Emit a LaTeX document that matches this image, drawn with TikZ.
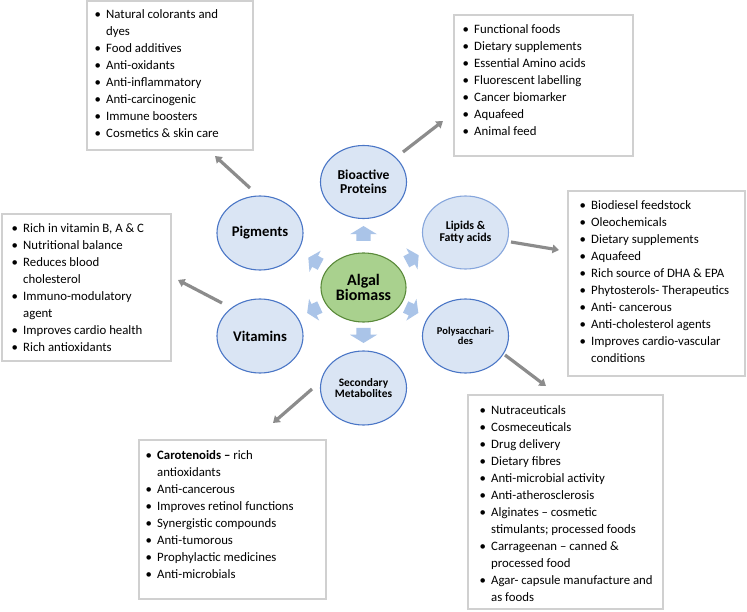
\documentclass[tikz,border=0pt]{standalone}
\usepackage{fontspec}
\setmainfont{Carlito}
\usetikzlibrary{shapes.geometric,arrows.meta}
\definecolor{cfill}{HTML}{DAE5F4}
\definecolor{cedge}{HTML}{4A76C6}
\definecolor{cedgeL}{HTML}{86A6DC}
\definecolor{gfill}{HTML}{A9D18E}
\definecolor{gedge}{HTML}{5A8A3A}
\definecolor{barrowc}{HTML}{AAC4E8}
\definecolor{gline}{HTML}{8C8C8C}
\definecolor{bedge}{HTML}{D0D0D0}
\newlength\bind
\setlength\bind{8.5pt}
\newcommand\bl[1]{\makebox[\bind][l]{\makebox[0pt]{\textbullet}}#1}
\newcommand\cl[1]{\hspace*{\bind}#1}
\newcommand\barr[5]{\begin{scope}[shift={(#1,#2)},rotate=#3]
\fill[barrowc] ({-#4/2},{-0.26*#5}) -- ({0.5*#4-0.55*#4},{-0.26*#5}) -- ({0.5*#4-0.55*#4},{-#5/2}) -- ({#4/2},0) -- ({0.5*#4-0.55*#4},{#5/2}) -- ({0.5*#4-0.55*#4},{0.26*#5}) -- ({-#4/2},{0.26*#5}) -- cycle;
\end{scope}}
\begin{document}
\begin{tikzpicture}[x=1pt,y=-1pt,
  circ/.style={ellipse, draw=cedge, line width=1.1pt, fill=cfill, inner sep=0pt,
    minimum width=86pt, minimum height=73pt, align=center},
  boxst/.style={draw=bedge, line width=1.2pt, fill=white},
  txt/.style={inner sep=0pt, anchor=base west, font=\fontsize{12.8}{17}\selectfont},
  conn/.style={draw=gline, line width=3.2pt, -{Triangle[length=6.5pt,width=8.5pt]}}]
\useasboundingbox (0,0) rectangle (747,612);
\fill[white] (0,0) rectangle (747,612);

% boxes
\draw[boxst] (87,1) rectangle (253,150);
\draw[boxst] (454,15) rectangle (633,156);
\draw[boxst] (568,191) rectangle (745,376);
\draw[boxst] (2,214) rectangle (171,361);
\draw[boxst] (468,395) rectangle (663,609);
\draw[boxst] (139,440) rectangle (326,599);

% box texts
\node[txt] (pigT) at (97.5,19) {\begin{tabular}[t]{@{}l@{}}
\bl{Natural colorants and}\\ \cl{dyes}\\ \bl{Food additives}\\ \bl{Anti-oxidants}\\
\bl{Anti-inflammatory}\\ \bl{Anti-carcinogenic}\\ \bl{Immune boosters}\\ \bl{Cosmetics \& skin care}
\end{tabular}};
\node[txt] (protT) at (465.5,34) {\begin{tabular}[t]{@{}l@{}}
\bl{Functional foods}\\ \bl{Dietary supplements}\\ \bl{Essential Amino acids}\\ \bl{Fluorescent labelling}\\
\bl{Cancer biomarker}\\ \bl{Aquafeed}\\ \bl{Animal feed}
\end{tabular}};
\node[txt] (lipT) at (582.5,210) {\begin{tabular}[t]{@{}l@{}}
\bl{Biodiesel feedstock}\\ \bl{Oleochemicals}\\ \bl{Dietary supplements}\\ \bl{Aquafeed}\\
\bl{Rich source of DHA \& EPA}\\ \bl{Phytosterols- Therapeutics}\\ \bl{Anti- cancerous}\\
\bl{Anti-cholesterol agents}\\ \bl{Improves cardio-vascular}\\ \cl{conditions}
\end{tabular}};
\node[txt] (vitT) at (14.5,233) {\begin{tabular}[t]{@{}l@{}}
\bl{Rich in vitamin B, A \& C}\\ \bl{Nutritional balance}\\ \bl{Reduces blood}\\ \cl{cholesterol}\\
\bl{Immuno-modulatory}\\ \cl{agent}\\ \bl{Improves cardio health}\\ \bl{Rich antioxidants}
\end{tabular}};
\node[txt] (polyT) at (482.5,414) {\begin{tabular}[t]{@{}l@{}}
\bl{Nutraceuticals}\\ \bl{Cosmeceuticals}\\ \bl{Drug delivery}\\ \bl{Dietary fibres}\\
\bl{Anti-microbial activity}\\ \bl{Anti-atherosclerosis}\\ \bl{Alginates -- cosmetic}\\
\cl{stimulants; processed foods}\\ \bl{Carrageenan -- canned \&}\\ \cl{processed food}\\
\bl{Agar- capsule manufacture and}\\ \cl{as foods}
\end{tabular}};
\node[txt] (secT) at (148.5,459) {\begin{tabular}[t]{@{}l@{}}
\bl{\textbf{Carotenoids --} rich}\\ \cl{antioxidants}\\ \bl{Anti-cancerous}\\ \bl{Improves retinol functions}\\
\bl{Synergistic compounds}\\ \bl{Anti-tumorous}\\ \bl{Prophylactic medicines}\\ \bl{Anti-microbials}
\end{tabular}};

% connector end points
\coordinate (pigS) at (250,188);  \coordinate (pigE) at (215,156);
\coordinate (protS) at (403,152); \coordinate (protE) at (443,121);
\coordinate (lipS) at (511,242);  \coordinate (lipE) at (559,250);
\coordinate (vitS) at (222,303);  \coordinate (vitE) at (178,280);
\coordinate (polyS) at (505,355); \coordinate (polyE) at (546,386);
\coordinate (secS) at (312,389);  \coordinate (secE) at (273,423);
\draw[conn] (pigS) -- (pigE);
\draw[conn] (protS) -- (protE);
\draw[conn] (lipS) -- (lipE);
\draw[conn] (vitS) -- (vitE);
\draw[conn] (polyS) -- (polyE);
\draw[conn] (secS) -- (secE);

% circles
\node[circ, font=\bfseries\fontsize{13.6}{13.5}\selectfont] (prot) at (363.5,182) {Bioactive\\Proteins};
\node[circ, font=\bfseries\fontsize{14.7}{15}\selectfont, minimum height=74pt] (pig) at (260,233) {Pigments};
\node[circ, draw=cedgeL, font=\bfseries\fontsize{11.9}{11.5}\selectfont] (lip) at (465.5,232.5) {Lipids \&\\Fatty acids};
\node[circ, font=\bfseries\fontsize{14.7}{15}\selectfont, minimum height=74pt] (vit) at (260,336) {Vitamins};
\node[circ, font=\bfseries\fontsize{10.5}{10.5}\selectfont, minimum height=74pt] (poly) at (465.5,336) {Polysacchari-\\des};
\node[circ, font=\bfseries\fontsize{11.4}{11.2}\selectfont, minimum height=74pt] (sec) at (363.5,388) {Secondary\\Metabolites};
\node[circ, draw=gedge, fill=gfill, minimum width=85pt, minimum height=69pt,
  font=\bfseries\fontsize{16}{15.5}\selectfont] (alg) at (363.5,287.5) {Algal\\Biomass};

% block arrows
\barr{363.5}{233.5}{90}{15}{27}
\barr{363.5}{335.5}{-90}{15}{27}
\barr{314.5}{261}{152}{14}{24}
\barr{412.5}{258.5}{28}{14}{24}
\barr{313.5}{310}{-155}{14}{24}
\barr{412}{310}{-25}{14}{24}
\end{tikzpicture}
\end{document}
